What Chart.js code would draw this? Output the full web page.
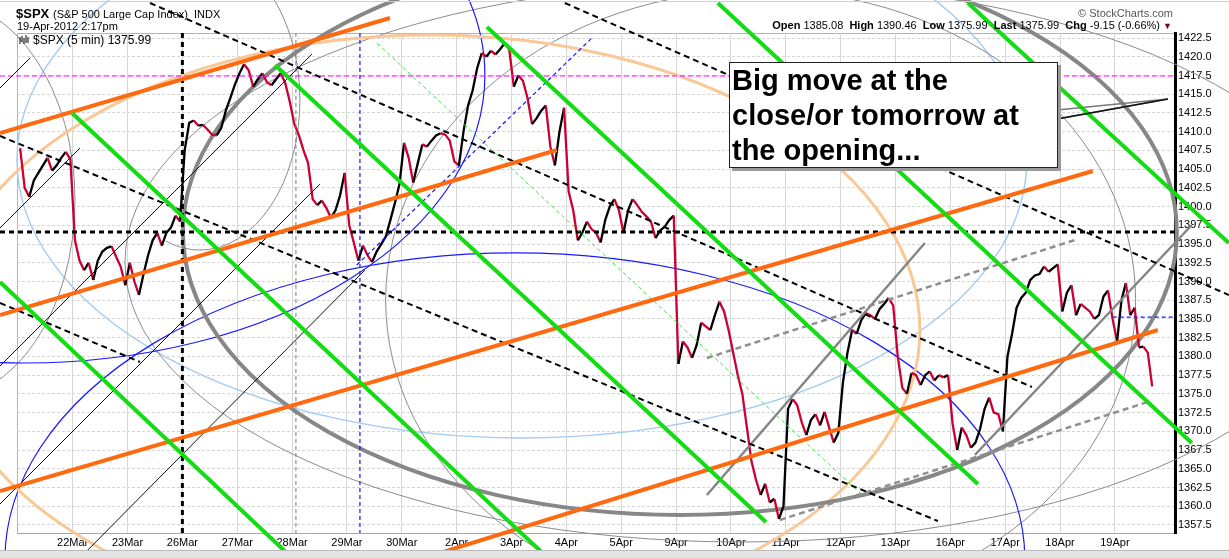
<!DOCTYPE html>
<html>
<head>
<meta charset="utf-8">
<script src="https://cdn.jsdelivr.net/npm/chart.js@4.4.1/dist/chart.umd.min.js"></script>
<style>
  body { margin: 0; background: #fff; font-family: 'Liberation Sans', Arial, sans-serif; }
  #wrap { position: relative; width: 1229px; height: 558px; overflow: hidden; }
  #chart { position: absolute; left: 0; top: 0; }
  .t { position: absolute; white-space: pre; color: #000; line-height: 1; }
  #note {
    position: absolute; left: 729px; top: 62px; width: 329px; height: 106px;
    box-sizing: border-box; border: 1px solid #222; background: #fff;
    box-shadow: 3px 3px 0 #9a9a9a; padding-left: 2px;
    font-weight: bold; font-size: 29px; line-height: 35px; white-space: pre;
  }
  #toolbar { position: absolute; left: 0; top: 550px; width: 1229px; height: 8px; background: #e4e4e4; border-top: 1px solid #bdbdbd; }
  #topline { position: absolute; left: 0; top: 1px; width: 1229px; height: 1px; background: #d0d0d0; }
</style>
</head>
<body>
<div id="wrap">
  <canvas id="chart" width="1229" height="558"></canvas>
  <div id="topline"></div>
  <div class="t" style="left:16px;top:7px;font-size:13px;font-weight:bold">$SPX</div>
  <div class="t" style="left:53px;top:9px;font-size:11px">(S&amp;P 500 Large Cap Index)  INDX</div>
  <div class="t" style="left:17px;top:21px;font-size:11px">19-Apr-2012 2:17pm</div>
  <svg style="position:absolute;left:19px;top:35px" width="12" height="10">
    <path d="M1 2v7M3 1v6M5 3v6M7 0v8M9 2v6" stroke="#000" stroke-width="1"/>
  </svg>
  <div class="t" style="left:33px;top:34px;font-size:12px">$SPX (5 min) 1375.99</div>
  <div class="t" style="right:56px;top:8px;font-size:11px;color:#555">© StockCharts.com</div>
  <div class="t" style="right:57px;top:20px;font-size:11px"><b>Open</b> 1385.08  <b>High</b> 1390.46  <b>Low</b> 1375.99  <b>Last</b> 1375.99  <b>Chg</b> -9.15 (-0.66%) <span style="color:#8b0000;font-size:9px">▼</span></div>
  <svg style="position:absolute;left:0;top:0" width="1229" height="558">
    <polyline points="1057,110 1168,99 1057,119" fill="none" stroke="#777" stroke-width="1.5"/>
    <line x1="1057" y1="119" x2="1168" y2="99" stroke="#111" stroke-width="1.5"/>
  </svg>
  <div id="note">Big move at the
close/or tomorrow at
the opening...</div>
  <div id="toolbar"></div>
</div>
<script>
// trading days, day index -1 = 21Mar
const dayLabels = ['21Mar', '22Mar', '23Mar', '26Mar', '27Mar', '28Mar', '29Mar', '30Mar', '2Apr', '3Apr',
  '4Apr', '5Apr', '9Apr', '10Apr', '11Apr', '12Apr', '13Apr', '16Apr', '17Apr', '18Apr', '19Apr'];

// 5 min closes, sampled across each session
const closesByDay = [
  [1407.8, 1402.5, 1401.3, 1403.5, 1404.5, 1405.5, 1406.5, 1404.8, 1405.5, 1406.5, 1407.3, 1406.3],
  [1395.5, 1392.8, 1391.5, 1392.5, 1390.2, 1392.8, 1394, 1394.5, 1394.7, 1393.3, 1392, 1389.5],
  [1392.5, 1390, 1388.2, 1391, 1393.5, 1395.5, 1396.5, 1394.8, 1396.5, 1397.2, 1398.8, 1398],
  [1407.5, 1411.2, 1411.5, 1410.8, 1410.9, 1410.3, 1409.6, 1409.5, 1410.5, 1412.8, 1414.5, 1416.3],
  [1417.8, 1419, 1418.2, 1416, 1417, 1417.8, 1416.6, 1416.2, 1417, 1417.8, 1416.5, 1414],
  [1411, 1409.5, 1407.5, 1405.8, 1401, 1400.2, 1400.8, 1399.8, 1398.5, 1399.5, 1401.5, 1404.5],
  [1397.5, 1395.2, 1392.8, 1394.8, 1393.5, 1392.6, 1394, 1395, 1396, 1398.2, 1400.5, 1403],
  [1408.5, 1406.5, 1403.2, 1405.8, 1408.3, 1408, 1408.8, 1409.5, 1409.8, 1409.6, 1408.8, 1406],
  [1405.5, 1410, 1413.5, 1415.5, 1418.5, 1420.5, 1420, 1420.8, 1420.3, 1421, 1421.8, 1421],
  [1416, 1417.5, 1416.8, 1414.5, 1411, 1411.8, 1412.8, 1413.5, 1408, 1405.5, 1410, 1413.2],
  [1402, 1399.5, 1395.5, 1396.5, 1398, 1397, 1396.5, 1395.2, 1398.2, 1400, 1401, 1399.5],
  [1396.5, 1399.5, 1401, 1400.2, 1399.3, 1398.7, 1398, 1395.8, 1396.8, 1397.3, 1398.2, 1398.8],
  [1379, 1382, 1381.2, 1379.8, 1381.5, 1384.5, 1384, 1383.5, 1385.5, 1387.3, 1386, 1383.5],
  [1380.5, 1377.5, 1375, 1370.5, 1366, 1363.5, 1361.5, 1363, 1360.5, 1361, 1358.3, 1360],
  [1373, 1374.3, 1373.5, 1371.2, 1369.5, 1371.5, 1372.3, 1370.8, 1372.6, 1370.5, 1368.5, 1369.8],
  [1376.5, 1380.5, 1383.5, 1383, 1384.8, 1385.8, 1385.5, 1385, 1386.3, 1387, 1387.8, 1386.8],
  [1380, 1375.8, 1375, 1377.8, 1377.5, 1376.2, 1377.5, 1378, 1376.8, 1377.5, 1377.2, 1377.5],
  [1371, 1367.5, 1370.5, 1369.5, 1367.8, 1368.5, 1370.3, 1373, 1374.5, 1372.5, 1372.3, 1370],
  [1380, 1383, 1386.5, 1387.8, 1388.5, 1390.2, 1390.8, 1391, 1392, 1391.3, 1391.8, 1392.3],
  [1386, 1388.5, 1389.5, 1385.5, 1387, 1386.5, 1386, 1385, 1385.5, 1388, 1388.8, 1385],
  [1382, 1387.5, 1389.8, 1385.5, 1386.5, 1381.2, 1381.3, 1380.5, 1376]
];
const lastSessionShare = 0.72; // 19Apr only runs to 2:17pm

const priceTicks = ['1357.5', '1360.0', '1362.5', '1365.0', '1367.5', '1370.0', '1372.5', '1375.0', '1377.5',
  '1380.0', '1382.5', '1385.0', '1387.5', '1390.0', '1392.5', '1395.0', '1397.5', '1400.0', '1402.5', '1405.0',
  '1407.5', '1410.0', '1412.5', '1415.0', '1417.5', '1420.0', '1422.5'];

// drawn lines: [day, price, day, price]
const greenLines = [
  [-1.325, 1389.93, 3.998, 1353.1], [-0.013, 1412.49, 8.664, 1353.1], [3.688, 1418.9, 12.637, 1357.9],
  [7.552, 1423.97, 16.502, 1362.97], [11.762, 1427.17, 20.403, 1368.44], [16.32, 1427.17, 21.077, 1395.14]
];
const lightGreenDashed = [[5.55, 1421.8, 14.39, 1361.5]];
const orangeLines = [
  [-1.325, 1409.82, 5.784, 1425.17], [-1.325, 1385.53, 8.828, 1407.55],
  [-1.325, 1362.04, 18.598, 1404.75], [6.404, 1353.1, 19.783, 1383.53]
];
const blackDashed = [
  [-1.325, 1409.42, 15.773, 1358.03], [1.409, 1427.17, 17.487, 1375.92],
  [8.973, 1427.17, 21.077, 1388.2], [-1.325, 1387.13, 1.227, 1379.26]
];
const thinBlack = [
  [-1.325, 1415.83, -0.778, 1419.83], [-1.325, 1397.14, 0.133, 1407.82], [-1.325, 1378.72, 4.362, 1420.36],
  [-1.325, 1360.3, 4.508, 1403.01], [0.133, 1353.1, 5.328, 1391.53]
];
const grayLines = [[11.562, 1361.5, 15.536, 1395.14], [16.448, 1366.84, 20.403, 1397.54]];
const grayDashed = [[11.562, 1379.79, 18.27, 1395.54], [12.893, 1358.17, 19.601, 1373.92]];
const blueDashed = [[5.18, 1392.2, 9.48, 1422.6], [18.96, 1385.25, 20.093, 1385.25], [5.237, 1423.17, 5.237, 1356.43]];
const levelLine = [[-1.325, 1396.6, 20.093, 1396.6], [2, 1423.17, 2, 1356.43]];
const magentaLine = [[-1.325, 1417.43, 20.093, 1417.43]];
const grayVertical = [[4.07, 1423.17, 4.07, 1356.43]];

// ellipses: [centre day, centre price, day radius, price radius, from deg, to deg]
const thickGrayRings = [[11.07, 1396.61, 9.06, 37.77, 0, 360]];
const thinGrayRings = [
  [12.542, 1387.53, 6.836, 41.38, 0, 360], [12.164, 1392.6, 11.21, 37.37, 0, 360],
  [-2.419, 1400.88, 2.461, 26.69, 0, 360], [2.32, 1414.22, 1.823, 20.02, -90, 110]
];
const peachRings = [[6.513, 1383.53, 8.932, 39.37, 0, 360]];
const blueRings = [[8.062, 1352.83, 9.297, 40.98, 0, 360], [-0.87, 1417.56, 8.385, 38.44, 0, 360]];
const lightBlueRings = [[8.19, 1406.22, 9.205, 37.1, 0, 360]];

const styles = {
  green: { color: '#12dc12', width: 4 },
  lightGreen: { color: '#3ee83e', width: 1, dash: [4, 3] },
  orange: { color: '#ff6a10', width: 4 },
  black: { color: '#000', width: 2, dash: [6, 4] },
  thinBlack: { color: '#111', width: 1 },
  gray: { color: '#858585', width: 2.5 },
  grayDashed: { color: '#8f8f8f', width: 2.5, dash: [6, 4] },
  blue: { color: '#1414ff', width: 1.2, dash: [4, 3] },
  level: { color: '#000', width: 3, dash: [5, 4] },
  magenta: { color: '#ff00ff', width: 1.2, dash: [5, 3] },
  grayVertical: { color: '#7a7a7a', width: 1, dash: [4, 3] },
  thickGray: { color: '#878787', width: 4 },
  thinGray: { color: '#8c8c8c', width: 1 },
  peach: { color: '#f9c896', width: 3 },
  blueRing: { color: '#1a1aff', width: 1.2 },
  lightBlue: { color: '#a3cbf3', width: 1.4 }
};

const upColor = '#000';
const downColor = '#cc0033';

const pricePoints = [];
closesByDay.forEach((vals, k) => {
  const span = k === closesByDay.length - 1 ? lastSessionShare : 1;
  vals.forEach((v, i) => pricePoints.push({ x: k - 1 + span * (i + 0.5) / vals.length, y: v }));
});

const lineSets = (list, st) => list.map(([d1, p1, d2, p2]) => ({
  data: [{ x: d1, y: p1 }, { x: d2, y: p2 }],
  borderColor: st.color, borderWidth: st.width, borderDash: st.dash || [],
  pointRadius: 0, clip: false, order: 0, borderCapStyle: 'butt'
}));

const ringGroups = [
  [lightBlueRings, styles.lightBlue], [thinGrayRings, styles.thinGray], [blueRings, styles.blueRing],
  [peachRings, styles.peach], [thickGrayRings, styles.thickGray]
];

const ringsPlugin = {
  id: 'rings',
  beforeDatasetsDraw(chart) {
    const { ctx, scales: { x, y } } = chart;
    ctx.save();
    ringGroups.forEach(([list, st]) => {
      list.forEach(([cd, cp, rd, rp, a0, a1]) => {
        const cx = x.getPixelForValue(cd), cy = y.getPixelForValue(cp);
        const rx = Math.abs(x.getPixelForValue(cd + rd) - cx);
        const ry = Math.abs(y.getPixelForValue(cp + rp) - cy);
        ctx.beginPath();
        ctx.ellipse(cx, cy, rx, ry, 0, a0 * Math.PI / 180, a1 * Math.PI / 180);
        ctx.strokeStyle = st.color;
        ctx.lineWidth = st.width;
        ctx.stroke();
      });
    });
    ctx.restore();
  }
};

const framePlugin = {
  id: 'frame',
  beforeDraw(chart) {
    const { ctx, chartArea: a } = chart;
    ctx.save();
    ctx.fillStyle = '#fff';
    ctx.fillRect(0, 0, chart.width, chart.height);
    ctx.strokeStyle = '#b4b4b4';
    ctx.lineWidth = 1;
    ctx.beginPath();
    ctx.moveTo(a.left + 0.5, a.bottom);
    ctx.lineTo(a.left + 0.5, a.top + 0.5);
    ctx.lineTo(a.right, a.top + 0.5);
    ctx.stroke();
    ctx.restore();
  }
};

const datasets = [
  ...lineSets(greenLines, styles.green),
  ...lineSets(orangeLines, styles.orange),
  ...lineSets(blackDashed, styles.black),
  ...lineSets(lightGreenDashed, styles.lightGreen),
  ...lineSets(grayLines, styles.gray),
  ...lineSets(grayDashed, styles.grayDashed),
  ...lineSets(blueDashed, styles.blue),
  ...lineSets(thinBlack, styles.thinBlack),
  ...lineSets(levelLine, styles.level),
  ...lineSets(magentaLine, styles.magenta),
  ...lineSets(grayVertical, styles.grayVertical),
  {
    data: pricePoints,
    borderWidth: 2.3,
    pointRadius: 0,
    order: 10,
    segment: { borderColor: c => (c.p1.parsed.y < c.p0.parsed.y ? downColor : upColor) }
  }
];

new Chart(document.getElementById('chart'), {
  type: 'line',
  data: { datasets },
  options: {
    responsive: false,
    animation: false,
    devicePixelRatio: 1,
    layout: { padding: { left: 17, top: 33, right: 0, bottom: 0 } },
    plugins: { legend: { display: false }, tooltip: { enabled: false } },
    scales: {
      x: {
        type: 'linear', position: 'bottom', min: -1.015, max: 20.096,
        afterFit: s => { s.height = 25; },
        afterBuildTicks: s => { s.ticks = dayLabels.slice(1).map((_, i) => ({ value: i })); },
        grid: { color: '#d6d6d6', drawTicks: false },
        border: { color: '#a8a8a8' },
        ticks: {
          autoSkip: false, maxRotation: 0, padding: 3, color: '#000',
          font: { family: 'Liberation Sans, Arial', size: 11 },
          callback: v => dayLabels[v + 1]
        }
      },
      y: {
        type: 'linear', position: 'right', min: 1356.43, max: 1423.17,
        afterFit: s => { s.width = 54; },
        afterBuildTicks: s => { s.ticks = priceTicks.map(t => ({ value: parseFloat(t) })); },
        grid: { color: '#d6d6d6', drawTicks: false },
        border: { color: '#000', width: 3, dash: [3, 2] },
        ticks: {
          autoSkip: false, padding: 3, color: '#000',
          font: { family: 'Liberation Sans, Arial', size: 11 },
          callback: (v, i) => priceTicks[i]
        }
      }
    }
  },
  plugins: [framePlugin, ringsPlugin]
});
</script>
</body>
</html>
